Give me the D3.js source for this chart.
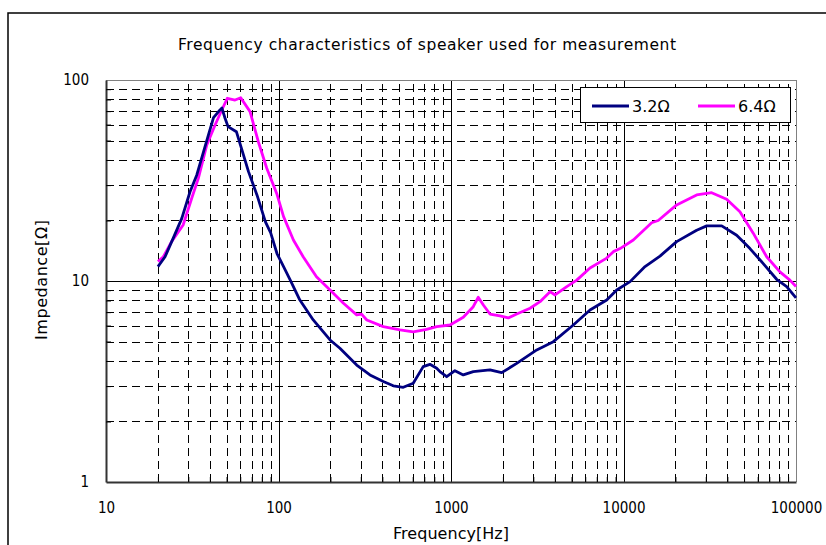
<!DOCTYPE html>
<html>
<head>
<meta charset="utf-8">
<script src="https://cdn.jsdelivr.net/npm/d3@7"></script>
<style>
  body { margin: 0; background: #fff; }
  svg { display: block; }
  text { font-family: "DejaVu Sans", sans-serif; fill: #000; }
</style>
</head>
<body>
<svg id="chart" width="826" height="545"></svg>
<script>
// data
var freq32 = [20, 22, 24.5, 27.5, 30.7, 33.6, 37.5, 42, 45.8, 47, 49, 51, 57, 61, 67, 75, 84, 90, 98, 107, 117, 133, 159, 199, 227, 284, 339, 405, 463, 529, 604, 690, 755, 826, 863, 944, 1054, 1178, 1346, 1682, 1967, 2404, 3141, 3921, 5118, 6396, 7994, 9137, 10920, 13330, 16280, 20330, 26550, 30360, 37100, 45300, 54100, 64600, 77200, 88300, 100000];
var imp32 = [11.8, 13.2, 16.3, 20.5, 27.8, 33.7, 46.6, 65, 71, 72.5, 64.5, 58.6, 55.3, 45.7, 35, 26.8, 19.7, 17.4, 13.7, 11.8, 10.1, 8.04, 6.4, 5.09, 4.63, 3.82, 3.41, 3.16, 3.01, 2.96, 3.1, 3.75, 3.85, 3.68, 3.54, 3.34, 3.58, 3.41, 3.54, 3.61, 3.5, 3.89, 4.54, 4.99, 6.04, 7.17, 8.04, 9.02, 9.93, 11.8, 13.3, 15.7, 17.9, 18.8, 18.8, 16.9, 14.5, 12.2, 10.2, 9.37, 8.25];

var freq64 = [20, 21.5, 24, 28, 31.4, 34.3, 38.4, 42.9, 46.9, 50.5, 56, 60.4, 68.4, 76.4, 85.5, 98, 107, 122, 139, 166, 199, 238, 284, 303, 325, 405, 506, 604, 722, 826, 987, 1178, 1346, 1439, 1540, 1682, 1922, 2149, 2404, 2873, 3282, 3752, 4010, 4690, 5356, 6396, 7994, 8733, 9550, 11400, 14560, 15900, 20330, 26550, 32430, 39630, 47300, 56500, 67600, 80700, 92200, 100000];
var imp64 = [12.5, 13.2, 15.7, 19, 25.8, 32.4, 47.5, 59.7, 70.9, 81.1, 79.5, 81.6, 69.6, 49.3, 36.4, 27, 20.9, 16, 13.2, 10.5, 9.02, 7.75, 6.78, 6.84, 6.4, 5.93, 5.71, 5.59, 5.75, 5.93, 6.04, 6.6, 7.45, 8.3, 7.6, 6.85, 6.7, 6.55, 6.85, 7.32, 7.89, 8.85, 8.52, 9.37, 10.1, 11.6, 13, 14, 14.5, 16, 19.5, 20, 23.9, 26.8, 27.5, 25.5, 22.1, 17.3, 13.2, 11.1, 10.1, 9.4];

var seriesNames = ["3.2\u03a9", "6.4\u03a9"];
var seriesColors = ["#000080", "#ff00ff"];

var xMajor = [10, 100, 1000, 10000, 100000];
var yMajor = [1, 10, 100];
var minorMult = [2, 3, 4, 5, 6, 7, 8, 9];

(function () {
    var svg = d3.select("#chart");
    var pLeft = 106, pRight = 796, pTop = 80, pBottom = 482;

    // outer chart border
    svg.append("rect")
        .attr("x", 8).attr("y", 13)
        .attr("width", 840).attr("height", 560)
        .attr("fill", "none").attr("stroke", "#000").attr("stroke-width", 1.5);

    svg.append("text")
        .attr("x", 427).attr("y", 50)
        .attr("text-anchor", "middle")
        .attr("font-size", 15.5)
        .attr("textLength", 498)
        .text("Frequency characteristics of speaker used for measurement");

    var x = d3.scaleLog().domain([10, 100000]).range([pLeft, pRight]);
    var y = d3.scaleLog().domain([1, 100]).range([pBottom, pTop]);

    var xMinor = [], yMinor = [];
    xMajor.slice(0, -1).forEach(function (d) { minorMult.forEach(function (m) { xMinor.push(d * m); }); });
    yMajor.slice(0, -1).forEach(function (d) { minorMult.forEach(function (m) { yMinor.push(d * m); }); });

    var w = pRight - pLeft, h = pBottom - pTop;

    // dashed minor grid
    svg.append("g")
        .attr("class", "grid minor")
        .attr("transform", "translate(0," + pBottom + ")")
        .call(d3.axisBottom(x).tickValues(xMinor).tickSize(-h).tickFormat(""));
    svg.append("g")
        .attr("class", "grid minor")
        .attr("transform", "translate(" + pLeft + ",0)")
        .call(d3.axisLeft(y).tickValues(yMinor).tickSize(-w).tickFormat(""));
    svg.selectAll(".grid.minor line")
        .attr("stroke", "#000").attr("stroke-dasharray", "8,5")
        .attr("shape-rendering", "crispEdges");

    // solid major grid
    svg.append("g")
        .attr("class", "grid major")
        .attr("transform", "translate(0," + pBottom + ")")
        .call(d3.axisBottom(x).tickValues(xMajor.slice(1, -1)).tickSize(-h).tickFormat(""));
    svg.append("g")
        .attr("class", "grid major")
        .attr("transform", "translate(" + pLeft + ",0)")
        .call(d3.axisLeft(y).tickValues([10]).tickSize(-w).tickFormat(""));
    svg.selectAll(".grid.major line")
        .attr("stroke", "#000").attr("shape-rendering", "crispEdges");
    svg.selectAll(".grid .domain").remove();

    // plot frame (top and right in grey)
    svg.append("path")
        .attr("d", "M" + pLeft + "," + pTop + "H" + pRight + "V" + pBottom)
        .attr("fill", "none").attr("stroke", "#808080")
        .attr("shape-rendering", "crispEdges");

    // axes
    var yAxis = svg.append("g")
        .attr("transform", "translate(" + pLeft + ",0)")
        .call(d3.axisLeft(y).tickValues(yMajor).tickSize(0).tickPadding(17).tickFormat(d3.format("d")));
    var xAxis = svg.append("g")
        .attr("transform", "translate(0," + pBottom + ")")
        .call(d3.axisBottom(x).tickValues(xMajor).tickSize(0).tickPadding(20).tickFormat(d3.format("d")));
    [xAxis, yAxis].forEach(function (a) {
        a.select(".domain").attr("stroke", "#333").attr("stroke-width", 2);
        a.selectAll("text").attr("font-size", 15).style("font-family", "'DejaVu Sans Condensed', 'DejaVu Sans', sans-serif");
    });

    // inner minor ticks
    svg.append("g")
        .attr("transform", "translate(" + pLeft + ",0)")
        .call(d3.axisRight(y).tickValues(yMinor).tickSize(5).tickFormat(""))
        .call(function (g) { g.select(".domain").remove(); });
    svg.append("g")
        .attr("transform", "translate(0," + pBottom + ")")
        .call(d3.axisTop(x).tickValues(xMinor).tickSize(5).tickFormat(""))
        .call(function (g) { g.select(".domain").remove(); });

    // series
    var line = d3.line()
        .x(function (d) { return x(d[0]); })
        .y(function (d) { return y(d[1]); });

    var series = [d3.zip(freq32, imp32), d3.zip(freq64, imp64)];
    svg.append("g").selectAll("path")
        .data(series.slice().reverse())
        .enter().append("path")
        .attr("d", line)
        .attr("fill", "none")
        .attr("stroke", function (d, i) { return seriesColors[1 - i]; })
        .attr("stroke-width", 2.8)
        .attr("stroke-linejoin", "round");

    // axis titles
    svg.append("text")
        .attr("x", 451).attr("y", 539)
        .attr("text-anchor", "middle").attr("font-size", 16)
        .attr("textLength", 116)
        .text("Frequency[Hz]");
    svg.append("text")
        .attr("transform", "translate(47,280) rotate(-90)")
        .attr("text-anchor", "middle").attr("font-size", 16)
        .attr("textLength", 120)
        .text("Impedance[\u03a9]");

    // legend
    var legend = svg.append("g").attr("transform", "translate(580,87)");
    legend.append("rect")
        .attr("width", 210).attr("height", 35)
        .attr("fill", "#fff").attr("stroke", "#000")
        .attr("shape-rendering", "crispEdges");
    var item = legend.selectAll(".item")
        .data(seriesNames)
        .enter().append("g")
        .attr("transform", function (d, i) { return "translate(" + (12 + i * 106) + ",19)"; });
    item.append("line")
        .attr("x1", 0).attr("x2", 37)
        .attr("stroke", function (d, i) { return seriesColors[i]; })
        .attr("stroke-width", 2.8);
    item.append("text")
        .attr("x", 40).attr("dy", "0.35em")
        .attr("font-size", 16)
        .text(function (d) { return d; });
})();
</script>
</body>
</html>
